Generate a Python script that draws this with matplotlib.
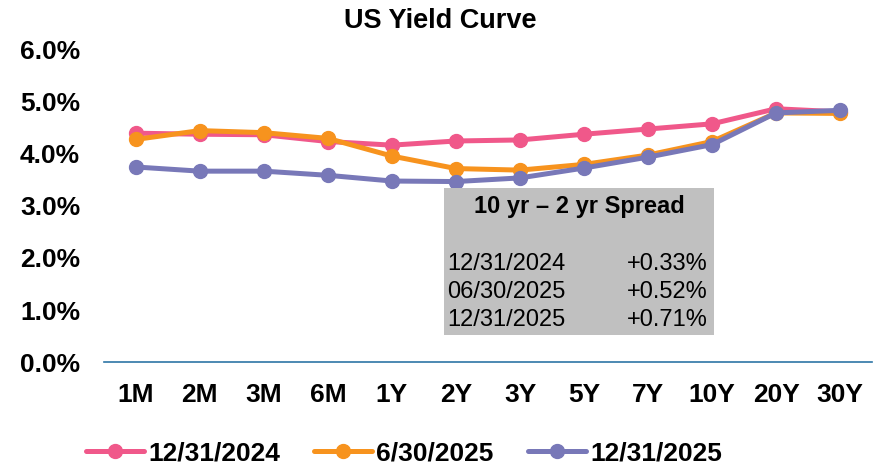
import matplotlib
matplotlib.use("Agg")
import matplotlib.pyplot as plt
from matplotlib.patches import Rectangle

plt.rcParams['font.family'] = ['Liberation Sans', 'DejaVu Sans']

maturities = ["1M", "2M", "3M", "6M", "1Y", "2Y", "3Y", "5Y", "7Y", "10Y", "20Y", "30Y"]
y_2024_12 = [4.40, 4.38, 4.37, 4.24, 4.17, 4.25, 4.27, 4.38, 4.48, 4.58, 4.87, 4.81]
y_2025_06 = [4.28, 4.45, 4.41, 4.30, 3.96, 3.72, 3.69, 3.80, 3.98, 4.24, 4.79, 4.78]
y_2025_12 = [3.75, 3.67, 3.67, 3.59, 3.48, 3.47, 3.54, 3.73, 3.94, 4.18, 4.79, 4.84]
series_labels = ["12/31/2024", "6/30/2025", "12/31/2025"]
colors = ["#F0588A", "#F7931E", "#7878B8"]
yticks = [0, 1, 2, 3, 4, 5, 6]
spread_title = "10 yr \u2013 2 yr Spread"
spread_dates = ["12/31/2024", "06/30/2025", "12/31/2025"]
spread_values = ["+0.33%", "+0.52%", "+0.71%"]

fig = plt.figure(figsize=(8.8, 4.65), dpi=100)
ax = fig.add_axes([0.118, 0.2215, 0.873, 0.671])

x = list(range(len(maturities)))
for data, lab, c in zip([y_2024_12, y_2025_06, y_2025_12], series_labels, colors):
    ax.plot(x, data, color=c, lw=3.6, marker='o', ms=10, label=lab, solid_capstyle='round')

ax.set_xlim(-0.5, len(maturities) - 0.5)
ax.set_ylim(0, 6)
ax.set_yticks(yticks)
ax.set_yticklabels([f"{v:.1f}%" for v in yticks], fontsize=19, fontweight='bold')
ax.set_xticks(x)
ax.set_xticklabels(maturities, fontsize=19, fontweight='bold')
ax.tick_params(axis='both', length=0)
ax.tick_params(axis='x', pad=15)
ax.tick_params(axis='y', pad=17)
for s in ['top', 'right', 'left']:
    ax.spines[s].set_visible(False)
ax.spines['bottom'].set_color('#2E75A6')
ax.spines['bottom'].set_linewidth(1.2)

fig.text(0.5, 1 - 21 / 465, "US Yield Curve", ha='center', va='center', fontsize=19.5, fontweight='bold')

# Spread box
x0, x1 = 444 / 880, 714 / 880
y0, y1 = 1 - 335 / 465, 1 - 188 / 465
fig.patches.append(Rectangle((x0, y0), x1 - x0, y1 - y0, transform=fig.transFigure,
                             facecolor='#C0C0C0', edgecolor='none', zorder=5))
fig.text((x0 + x1) / 2, 1 - 206 / 465, spread_title, ha='center', va='center',
         fontsize=17, fontweight='bold', zorder=6)
for i, (d, v) in enumerate(zip(spread_dates, spread_values)):
    yy = 1 - (264 + 28 * i) / 465
    fig.text(x0 + 3 / 880, yy, d, ha='left', va='center', fontsize=17, zorder=6)
    fig.text(x1 - 6 / 880, yy, v, ha='right', va='center', fontsize=17, zorder=6)

leg = fig.legend(loc='center', bbox_to_anchor=(404 / 880, 1 - 453 / 465), ncol=3, frameon=False,
                 prop={'size': 19, 'weight': 'bold'}, handlelength=2.2, columnspacing=1.3,
                 handletextpad=0.15)

fig.savefig("out.png", dpi=100)
